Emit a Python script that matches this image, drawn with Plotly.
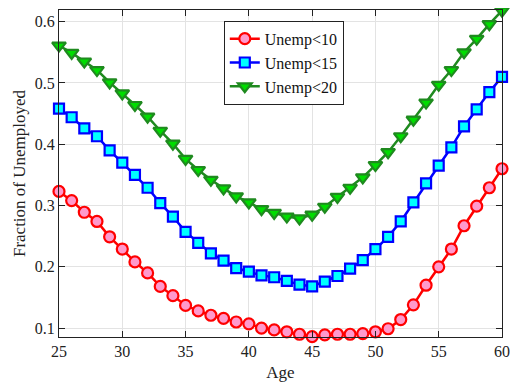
import plotly.graph_objects as go

ages = list(range(25, 61))

unemp10 = [0.323, 0.308, 0.289, 0.274, 0.249, 0.229, 0.208, 0.190, 0.168, 0.153,
           0.137, 0.128, 0.121, 0.116, 0.110, 0.107, 0.100, 0.097, 0.094, 0.090,
           0.086, 0.089, 0.090, 0.090, 0.091, 0.094, 0.099, 0.114, 0.138, 0.170,
           0.200, 0.229, 0.267, 0.299, 0.329, 0.360]

unemp15 = [0.458, 0.444, 0.426, 0.413, 0.390, 0.370, 0.350, 0.329, 0.304, 0.282,
           0.257, 0.239, 0.222, 0.210, 0.198, 0.192, 0.186, 0.183, 0.177, 0.171,
           0.168, 0.176, 0.185, 0.197, 0.211, 0.229, 0.249, 0.274, 0.305, 0.336,
           0.365, 0.395, 0.429, 0.457, 0.485, 0.510]

unemp20 = [0.561, 0.549, 0.535, 0.521, 0.501, 0.483, 0.464, 0.445, 0.422, 0.401,
           0.376, 0.358, 0.342, 0.328, 0.315, 0.305, 0.294, 0.288, 0.282, 0.279,
           0.285, 0.298, 0.314, 0.329, 0.346, 0.366, 0.387, 0.413, 0.440, 0.468,
           0.497, 0.521, 0.550, 0.572, 0.596, 0.618]

names = ["Unemp<10", "Unemp<15", "Unemp<20"]
series = [unemp10, unemp15, unemp20]
line_colors = ["#ff0000", "#0000ff", "#1f8a1f"]
fill_colors = ["#ff99cc", "#00ffff", "#00dd00"]
symbols = ["circle", "square", "triangle-down"]
sizes = [11, 10, 12]

fig = go.Figure()
for name, ys, lc, fc, sym, sz in zip(names, series, line_colors, fill_colors, symbols, sizes):
    fig.add_trace(go.Scatter(
        x=ages, y=ys, name=name, mode="lines+markers",
        line=dict(color=lc, width=2.5),
        marker=dict(symbol=sym, size=sz, color=fc, line=dict(color=lc, width=2.2)),
        cliponaxis=False,
    ))

FONT = "Liberation Serif"
axis_common = dict(
    showgrid=True, gridcolor="#e3e3e3", gridwidth=1,
    ticks="inside", ticklen=6, tickcolor="#222222",
    showline=True, linecolor="#222222", linewidth=1, mirror="ticks",
    tickfont=dict(family=FONT, size=16, color="#222222"),
    zeroline=False, automargin=False,
)

fig.update_xaxes(range=[25, 60], tickvals=[25, 30, 35, 40, 45, 50, 55, 60],
                 title=dict(text="Age", font=dict(family=FONT, size=17, color="#222222"), standoff=6),
                 **axis_common)
fig.update_yaxes(range=[0.0855, 0.619], tickvals=[0.1, 0.2, 0.3, 0.4, 0.5, 0.6],
                 tickformat=".1f",
                 title=dict(text="Fraction of Unemployed", font=dict(family=FONT, size=17, color="#222222"), standoff=4),
                 **axis_common)

fig.update_layout(
    width=510, height=376,
    margin=dict(l=51, r=16, t=2, b=47),
    plot_bgcolor="white", paper_bgcolor="white",
    legend=dict(x=0.372, y=0.967, xanchor="left", yanchor="top",
                bgcolor="white", bordercolor="#222222", borderwidth=1,
                font=dict(family=FONT, size=16, color="#111111"),
                tracegroupgap=0, itemwidth=30),
    showlegend=True,
)

fig.write_html("out.html")
